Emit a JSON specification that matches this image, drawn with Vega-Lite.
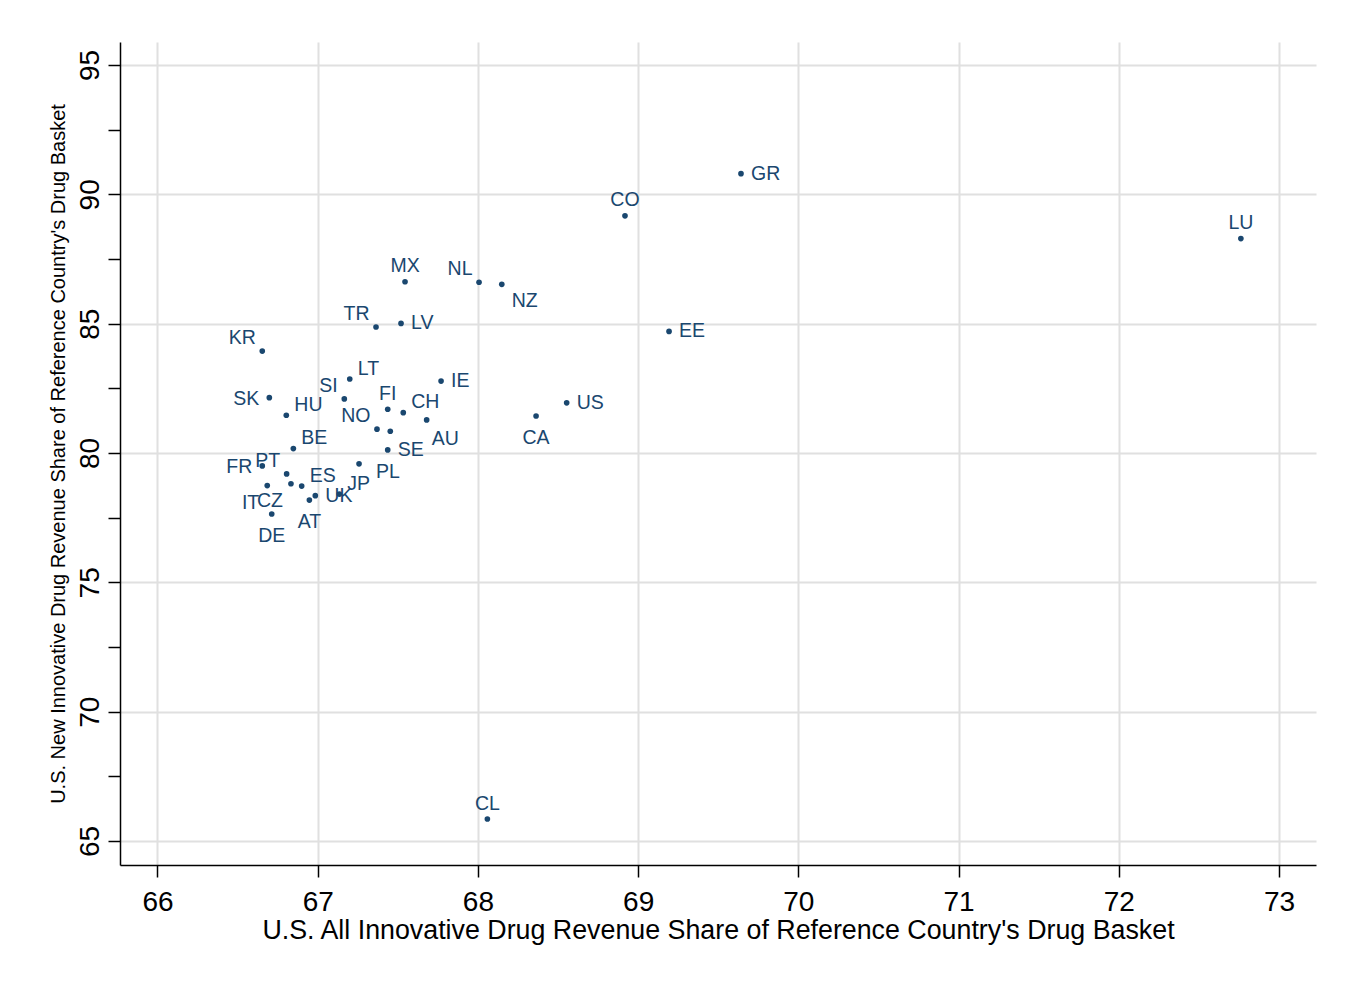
{
  "$schema": "https://vega.github.io/schema/vega-lite/v6.json",
  "width": 1196,
  "height": 823,
  "autosize": {"type": "none"},
  "padding": {"left": 120, "top": 42, "right": 35, "bottom": 118},
  "background": "white",
  "config": {"view": {"stroke": null}, "font": "Liberation Sans"},
  "data": {
    "values": [
      {"country": "MX", "x": 67.545, "y": 86.62},
      {"country": "NL", "x": 68.007, "y": 86.60},
      {"country": "NZ", "x": 68.149, "y": 86.52},
      {"country": "TR", "x": 67.364, "y": 84.87},
      {"country": "LV", "x": 67.520, "y": 85.01},
      {"country": "KR", "x": 66.654, "y": 83.94},
      {"country": "LT", "x": 67.200, "y": 82.86},
      {"country": "IE", "x": 67.770, "y": 82.78},
      {"country": "SK", "x": 66.698, "y": 82.14},
      {"country": "SI", "x": 67.166, "y": 82.09},
      {"country": "HU", "x": 66.804, "y": 81.46},
      {"country": "FI", "x": 67.437, "y": 81.69},
      {"country": "CH", "x": 67.534, "y": 81.56},
      {"country": "AU", "x": 67.680, "y": 81.28},
      {"country": "NO", "x": 67.370, "y": 80.92},
      {"country": "", "x": 67.453, "y": 80.84},
      {"country": "SE", "x": 67.437, "y": 80.12},
      {"country": "PL", "x": 67.258, "y": 79.58},
      {"country": "BE", "x": 66.848, "y": 80.17},
      {"country": "FR", "x": 66.654, "y": 79.50},
      {"country": "PT", "x": 66.806, "y": 79.19},
      {"country": "IT", "x": 66.685, "y": 78.74},
      {"country": "CZ", "x": 66.833, "y": 78.81},
      {"country": "ES", "x": 66.900, "y": 78.72},
      {"country": "AT", "x": 66.948, "y": 78.18},
      {"country": "UK", "x": 66.985, "y": 78.35},
      {"country": "DE", "x": 66.713, "y": 77.64},
      {"country": "JP", "x": 67.135, "y": 78.41},
      {"country": "US", "x": 68.554, "y": 81.94},
      {"country": "CA", "x": 68.363, "y": 81.43},
      {"country": "CO", "x": 68.918, "y": 89.17},
      {"country": "GR", "x": 69.642, "y": 90.80},
      {"country": "EE", "x": 69.193, "y": 84.70},
      {"country": "LU", "x": 72.762, "y": 88.29},
      {"country": "CL", "x": 68.059, "y": 65.85}
    ]
  },
  "encoding": {
    "x": {
      "field": "x",
      "type": "quantitative",
      "scale": {"domain": [65.766, 73.231], "nice": false, "zero": false},
      "axis": {
        "values": [66, 67, 68, 69, 70, 71, 72, 73],
        "title": "U.S. All Innovative Drug Revenue Share of Reference Country's Drug Basket",
        "grid": true,
        "gridColor": "#e0e0e0",
        "gridWidth": 2,
        "domainColor": "black",
        "domainWidth": 1.5,
        "tickColor": "black",
        "tickSize": 12,
        "tickWidth": 1.5,
        "labelFontSize": 28,
        "labelColor": "black",
        "labelPadding": 11,
        "labelFlush": false,
        "titleFontSize": 26.8,
        "titleFontWeight": "normal",
        "titleColor": "black",
        "titlePadding": 1
      }
    },
    "y": {
      "field": "y",
      "type": "quantitative",
      "scale": {"domain": [64.072, 95.889], "nice": false, "zero": false},
      "axis": {
        "values": [65, 67.5, 70, 72.5, 75, 77.5, 80, 82.5, 85, 87.5, 90, 92.5, 95],
        "labelExpr": "datum.value % 5 === 0 ? datum.label : ''",
        "title": "U.S. New Innovative Drug Revenue Share of Reference Country's Drug Basket",
        "grid": true,
        "gridColor": {"condition": {"test": "datum.value % 5 === 0", "value": "#e0e0e0"}, "value": "rgba(0,0,0,0)"},
        "gridWidth": 2,
        "domainColor": "black",
        "domainWidth": 1.5,
        "tickColor": "black",
        "tickSize": 12,
        "tickWidth": 1.5,
        "labelFontSize": 28,
        "labelColor": "black",
        "labelAngle": -90,
        "labelAlign": "center",
        "labelBaseline": "bottom",
        "labelPadding": 4,
        "labelOverlap": false,
        "labelFlush": false,
        "titleFontSize": 20,
        "titleFontWeight": "normal",
        "titleColor": "black",
        "titlePadding": 8
      }
    }
  },
  "layer": [
    {"mark": {"type": "circle", "size": 32, "color": "#1a476f", "opacity": 1}},
    {
      "transform": [{"filter": {"field": "country", "oneOf": ["LV", "GR", "EE", "IE", "SE", "US", "UK"]}}],
      "mark": {"type": "text", "align": "left", "baseline": "middle", "dx": 10, "dy": 0, "fontSize": 19.5, "color": "#1a476f"},
      "encoding": {"text": {"field": "country"}}
    },
    {
      "transform": [{"filter": {"field": "country", "oneOf": ["SK", "FR"]}}],
      "mark": {"type": "text", "align": "right", "baseline": "middle", "dx": -10, "dy": 1, "fontSize": 19.5, "color": "#1a476f"},
      "encoding": {"text": {"field": "country"}}
    },
    {
      "transform": [{"filter": {"field": "country", "oneOf": ["MX", "CO", "LU", "CL", "FI"]}}],
      "mark": {"type": "text", "align": "center", "baseline": "middle", "dx": 0, "dy": -15.5, "fontSize": 19.5, "color": "#1a476f"},
      "encoding": {"text": {"field": "country"}}
    },
    {
      "transform": [{"filter": {"field": "country", "oneOf": ["CA", "DE", "AT"]}}],
      "mark": {"type": "text", "align": "center", "baseline": "middle", "dx": 0, "dy": 22, "fontSize": 19.5, "color": "#1a476f"},
      "encoding": {"text": {"field": "country"}}
    },
    {
      "transform": [{"filter": {"field": "country", "oneOf": ["KR", "TR", "NL", "SI", "NO", "PT"]}}],
      "mark": {"type": "text", "align": "right", "baseline": "middle", "dx": -6.5, "dy": -13, "fontSize": 19.5, "color": "#1a476f"},
      "encoding": {"text": {"field": "country"}}
    },
    {
      "transform": [{"filter": {"field": "country", "oneOf": ["HU", "LT", "CH", "BE", "ES", "JP"]}}],
      "mark": {"type": "text", "align": "left", "baseline": "middle", "dx": 8, "dy": -10.5, "fontSize": 19.5, "color": "#1a476f"},
      "encoding": {"text": {"field": "country"}}
    },
    {
      "transform": [{"filter": {"field": "country", "oneOf": ["NZ"]}}],
      "mark": {"type": "text", "align": "left", "baseline": "middle", "dx": 10, "dy": 17, "fontSize": 19.5, "color": "#1a476f"},
      "encoding": {"text": {"field": "country"}}
    },
    {
      "transform": [{"filter": {"field": "country", "oneOf": ["AU"]}}],
      "mark": {"type": "text", "align": "left", "baseline": "middle", "dx": 5, "dy": 19.5, "fontSize": 19.5, "color": "#1a476f"},
      "encoding": {"text": {"field": "country"}}
    },
    {
      "transform": [{"filter": {"field": "country", "oneOf": ["PL"]}}],
      "mark": {"type": "text", "align": "left", "baseline": "middle", "dx": 17, "dy": 8, "fontSize": 19.5, "color": "#1a476f"},
      "encoding": {"text": {"field": "country"}}
    },
    {
      "transform": [{"filter": {"field": "country", "oneOf": ["IT", "CZ"]}}],
      "mark": {"type": "text", "align": "right", "baseline": "middle", "dx": -8, "dy": 17, "fontSize": 19.5, "color": "#1a476f"},
      "encoding": {"text": {"field": "country"}}
    }
  ]
}
